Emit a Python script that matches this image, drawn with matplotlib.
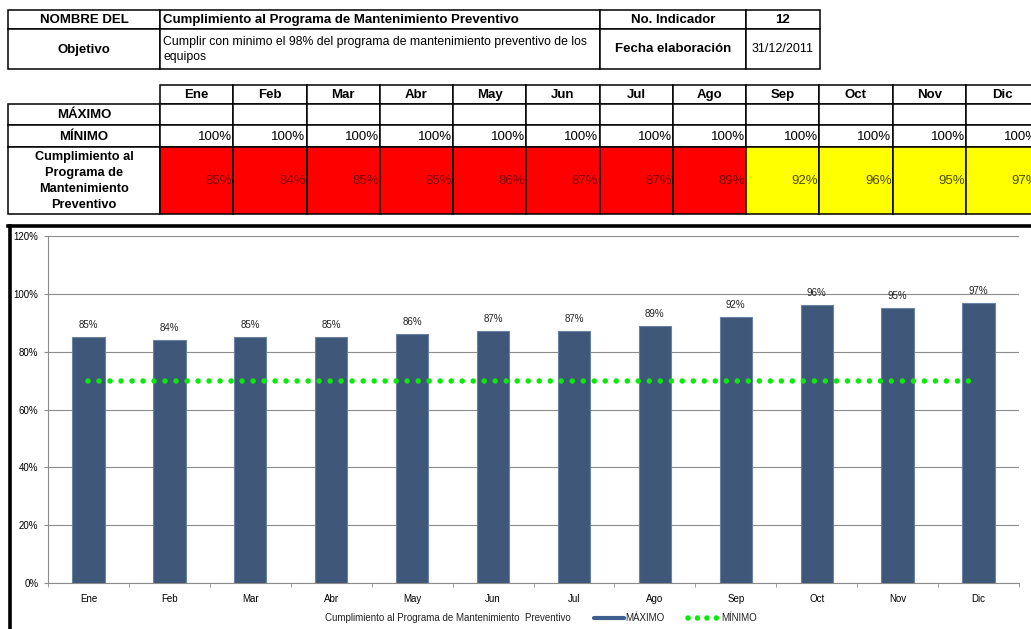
"""Indicador: Cumplimiento al Programa de Mantenimiento Preventivo (tabla + grafica)."""
import matplotlib
matplotlib.use("Agg")
import matplotlib.pyplot as plt
from matplotlib.patches import Rectangle
from matplotlib.lines import Line2D
import numpy as np

plt.rcParams["font.family"] = ["Liberation Sans", "DejaVu Sans"]

MESES = ["Ene", "Feb", "Mar", "Abr", "May", "Jun", "Jul", "Ago", "Sep", "Oct", "Nov", "Dic"]
MINIMO_TABLA = [1.00, 1.00, 1.00, 1.00, 1.00, 1.00, 1.00, 1.00, 1.00, 1.00, 1.00, 1.00]
CUMPLIMIENTO = [0.85, 0.84, 0.85, 0.85, 0.86, 0.87, 0.87, 0.89, 0.92, 0.96, 0.95, 0.97]
MINIMO_GRAFICA = [0.70, 0.70, 0.70, 0.70, 0.70, 0.70, 0.70, 0.70, 0.70, 0.70, 0.70, 0.70]

NOMBRE = "Cumplimiento al Programa de Mantenimiento Preventivo"
OBJETIVO = "Cumplir con minimo el 98% del programa de mantenimiento preventivo de los\nequipos"
NO_INDICADOR = "12"
FECHA = "31/12/2011"

W, H = 1031, 629
fig = plt.figure(figsize=(W / 100, H / 100), dpi=100)
fig.patch.set_facecolor("white")

# background axes in pixel coordinates for the tables, frame and legend
bg = fig.add_axes([0, 0, 1, 1])
bg.set_xlim(0, W)
bg.set_ylim(H, 0)
bg.set_axis_off()

GREEN = "#0AEA0A"
DOT_LW = 4.0


def cell(x0, x1, y0, y1, text="", color="white", bold=False, ha="center",
         size=9.5, tcolor="black", pad=3, ls=1.2):
    bg.add_patch(Rectangle((x0, y0), x1 - x0, y1 - y0, facecolor=color,
                           edgecolor="black", lw=1.1, zorder=1))
    if text:
        if ha == "center":
            tx = (x0 + x1) / 2
        elif ha == "left":
            tx = x0 + pad
        else:
            tx = x1 - 1
        bg.text(tx, (y0 + y1) / 2 + 0.5, text, ha=ha, va="center", fontsize=size,
                fontweight="bold" if bold else "normal", color=tcolor,
                clip_on=True, zorder=3, linespacing=ls)


# ---- tabla 1 ----
cell(8, 160, 10, 29, "NOMBRE DEL", bold=True)
cell(160, 600, 10, 29, NOMBRE, bold=True, ha="left")
cell(600, 746, 10, 29, "No. Indicador", bold=True)
cell(746, 820, 10, 29, NO_INDICADOR, bold=True)
cell(8, 160, 29, 69, "Objetivo", bold=True)
cell(160, 600, 29, 69, OBJETIVO, ha="left", size=8.8, ls=1.25)
cell(600, 746, 29, 69, "Fecha elaboración", bold=True)
cell(746, 820, 29, 69, FECHA, size=9)

# ---- tabla 2 ----
col_w = 73.25
rows = [(85, 104), (104, 125), (125, 147), (147, 214)]
cell(8, 160, *rows[1], "MÁXIMO", bold=True)
cell(8, 160, *rows[2], "MÍNIMO", bold=True)
cell(8, 160, *rows[3], "Cumplimiento al\nPrograma de\nMantenimiento\nPreventivo",
     bold=True, size=9.2, ls=1.42)
for i, mes in enumerate(MESES):
    x0 = 160 + i * col_w
    x1 = x0 + col_w
    cell(x0, x1, *rows[0], mes, bold=True)
    cell(x0, x1, *rows[1])
    cell(x0, x1, *rows[2], f"{MINIMO_TABLA[i]:.0%}", ha="right", size=9.5)
    v = CUMPLIMIENTO[i]
    if v < 0.90:
        fc, tc = "#FF0000", "#7a0000"
    else:
        fc, tc = "#FFFF00", "#4a4a00"
    cell(x0, x1, *rows[3], f"{v:.0%}", color=fc, ha="right", size=9.5, tcolor=tc)

# ---- marco de la grafica ----
bg.add_line(Line2D([9.5, 9.5], [225.5, H + 5], color="black", lw=2.6, zorder=2))
bg.add_line(Line2D([8, W + 5], [225.5, 225.5], color="black", lw=2.6, zorder=2))

# ---- grafica ----
x0_ax, x1_ax, ytop, ybot = 48, 1019, 236, 583
ax = fig.add_axes([x0_ax / W, (H - ybot) / H, (x1_ax - x0_ax) / W, (ybot - ytop) / H])
ax.set_facecolor("none")
x = np.arange(len(MESES))
ax.bar(x, CUMPLIMIENTO, width=0.40, color="#3F5779", edgecolor="#6a82a3",
       lw=0.8, zorder=3)
ax.plot(x, MINIMO_GRAFICA, color=GREEN, lw=DOT_LW, linestyle=(0, (0.001, 1.98)),
        dash_capstyle="round", zorder=4)
for xi, v in zip(x, CUMPLIMIENTO):
    ax.annotate(f"{v:.0%}", (xi, v), xytext=(0, 5), textcoords="offset points",
                ha="center", va="bottom", fontsize=7, color="#222222")

ax.set_xlim(-0.5, len(MESES) - 0.5)
ax.set_ylim(0, 1.2)
ax.set_yticks(np.arange(0, 1.21, 0.2))
ax.set_yticklabels([f"{t:.0%}" for t in np.arange(0, 1.21, 0.2)], fontsize=7)
ax.set_xticks(x)
ax.set_xticklabels(MESES, fontsize=7)
ax.set_xticks(np.arange(-0.5, len(MESES), 1.0), minor=True)
ax.tick_params(axis="x", which="major", length=0, pad=8)
ax.tick_params(axis="x", which="minor", length=3, color="#8c8c8c")
ax.tick_params(axis="y", length=3, color="#8c8c8c", pad=4)
ax.grid(axis="y", color="#8c8c8c", lw=0.8, zorder=0)
for side in ("top", "right"):
    ax.spines[side].set_visible(False)
for side in ("left", "bottom"):
    ax.spines[side].set_color("#8c8c8c")
    ax.spines[side].set_linewidth(0.8)

# ---- leyenda ----
ly = 618
bg.text(325, ly, "Cumplimiento al Programa de Mantenimiento  Preventivo",
        fontsize=7, va="center", ha="left", color="#222222")
bg.add_line(Line2D([594, 624], [ly, ly], color="#3F5F8F", lw=3.0,
                   solid_capstyle="round"))
bg.add_line(Line2D([688, 717], [ly, ly], color=GREEN, lw=DOT_LW,
                   linestyle=(0, (0.001, 1.7)), dash_capstyle="round"))
bg.text(625, ly, "MÁXIMO", fontsize=7, va="center", ha="left", color="#222222")
bg.text(721, ly, "MÍNIMO", fontsize=7, va="center", ha="left", color="#222222")

fig.savefig("out.png", dpi=100, facecolor="white")
